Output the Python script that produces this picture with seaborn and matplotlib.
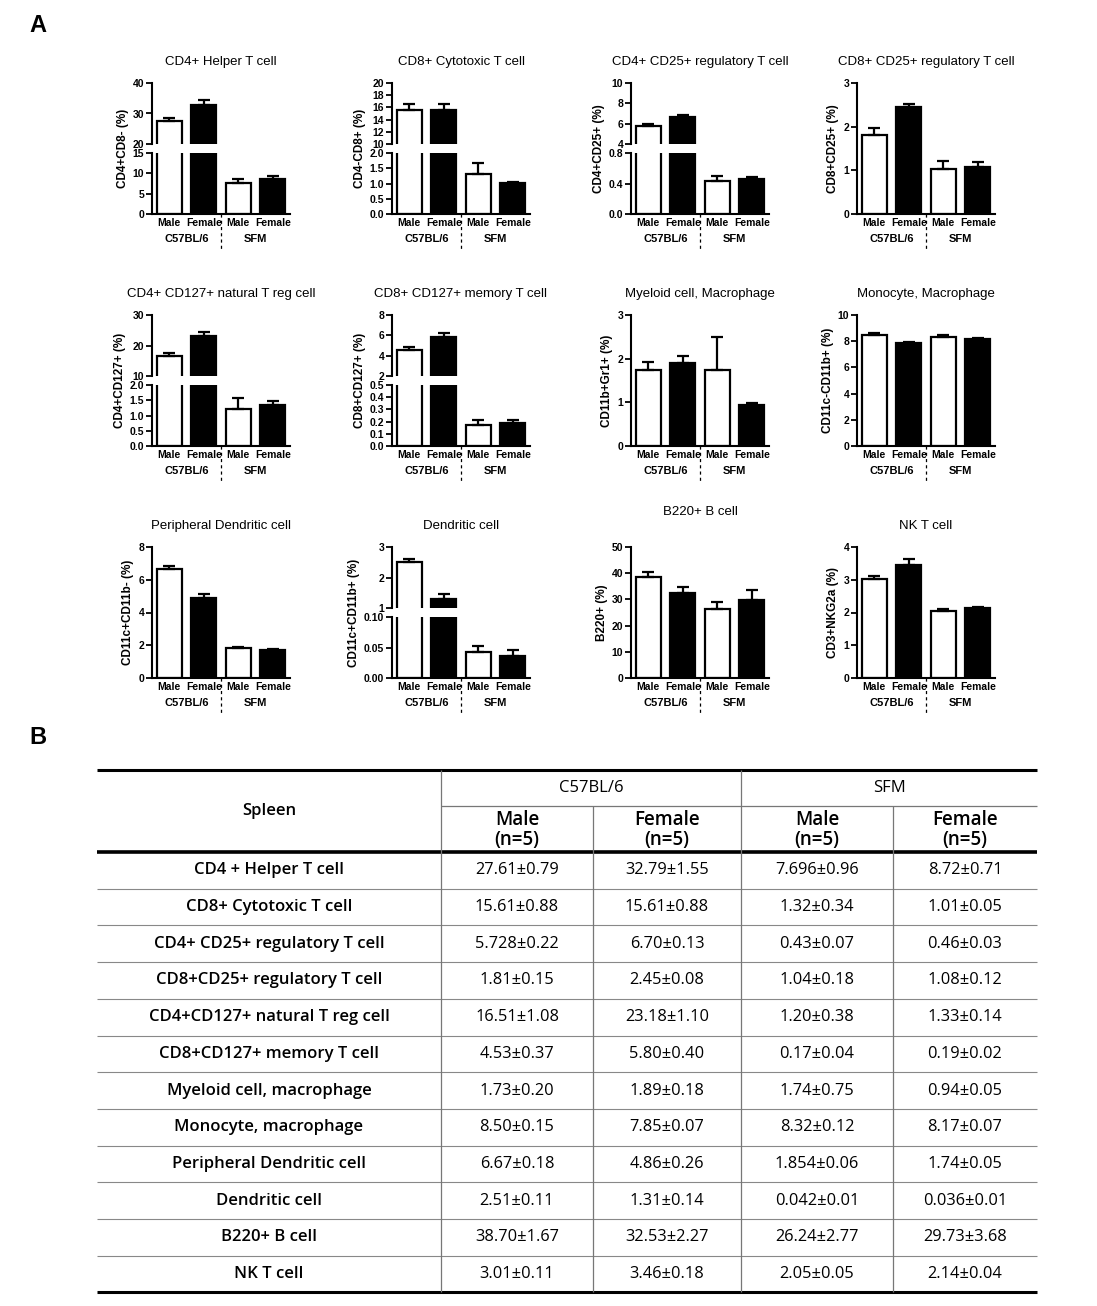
import matplotlib
matplotlib.use("Agg")
import matplotlib.pyplot as plt
from matplotlib.ticker import FormatStrFormatter
import numpy as np
import pandas as pd
import seaborn as sns

W, H, DPI = 1097, 1306, 100

# ---- data (mean ± SEM, spleen, n=5) ----
ROW_LABELS = ["CD4 + Helper T cell", "CD8+ Cytotoxic T cell", "CD4+ CD25+ regulatory T cell",
              "CD8+CD25+ regulatory T cell", "CD4+CD127+ natural T reg cell",
              "CD8+CD127+ memory T cell", "Myeloid cell, macrophage", "Monocyte, macrophage",
              "Peripheral Dendritic cell", "Dendritic cell", "B220+ B cell", "NK T cell"]
TITLES = ["CD4+ Helper T cell", "CD8+ Cytotoxic T cell", "CD4+ CD25+ regulatory T cell",
          "CD8+ CD25+ regulatory T cell", "CD4+ CD127+ natural T reg cell",
          "CD8+ CD127+ memory T cell", "Myeloid cell, Macrophage", "Monocyte, Macrophage",
          "Peripheral Dendritic cell", "Dendritic cell", "B220+ B cell", "NK T cell"]
YLABELS = ["CD4+CD8- (%)", "CD4-CD8+ (%)", "CD4+CD25+ (%)", "CD8+CD25+ (%)",
           "CD4+CD127+ (%)", "CD8+CD127+ (%)", "CD11b+Gr1+ (%)", "CD11c-CD11b+ (%)",
           "CD11c+CD11b- (%)", "CD11c+CD11b+ (%)", "B220+ (%)", "CD3+NKG2a (%)"]
C57_MALE = ["27.61±0.79", "15.61±0.88", "5.728±0.22", "1.81±0.15", "16.51±1.08", "4.53±0.37",
            "1.73±0.20", "8.50±0.15", "6.67±0.18", "2.51±0.11", "38.70±1.67", "3.01±0.11"]
C57_FEMALE = ["32.79±1.55", "15.61±0.88", "6.70±0.13", "2.45±0.08", "23.18±1.10", "5.80±0.40",
              "1.89±0.18", "7.85±0.07", "4.86±0.26", "1.31±0.14", "32.53±2.27", "3.46±0.18"]
SFM_MALE = ["7.696±0.96", "1.32±0.34", "0.43±0.07", "1.04±0.18", "1.20±0.38", "0.17±0.04",
            "1.74±0.75", "8.32±0.12", "1.854±0.06", "0.042±0.01", "26.24±2.77", "2.05±0.05"]
SFM_FEMALE = ["8.72±0.71", "1.01±0.05", "0.46±0.03", "1.08±0.12", "1.33±0.14", "0.19±0.02",
              "0.94±0.05", "8.17±0.07", "1.74±0.05", "0.036±0.01", "29.73±3.68", "2.14±0.04"]
STRAINS = ["C57BL/6", "C57BL/6", "SFM", "SFM"]
SEXES = ["Male", "Female", "Male", "Female"]

# y axis per panel: lower part (lim, ticks, fmt), upper part of a broken axis or None
YAXES = [
    (((0, 15), [0, 5, 10, 15], "%d"), ((20, 40), [20, 30, 40], "%d")),
    (((0, 2), [0, 0.5, 1, 1.5, 2], "%.1f"), ((10, 20), [10, 12, 14, 16, 18, 20], "%d")),
    (((0, 0.8), [0, 0.4, 0.8], "%.1f"), ((4, 10), [4, 6, 8, 10], "%d")),
    (((0, 3), [0, 1, 2, 3], "%d"), None),
    (((0, 2), [0, 0.5, 1, 1.5, 2], "%.1f"), ((10, 30), [10, 20, 30], "%d")),
    (((0, 0.5), [0, 0.1, 0.2, 0.3, 0.4, 0.5], "%.1f"), ((2, 8), [2, 4, 6, 8], "%d")),
    (((0, 3), [0, 1, 2, 3], "%d"), None),
    (((0, 10), [0, 2, 4, 6, 8, 10], "%d"), None),
    (((0, 8), [0, 2, 4, 6, 8], "%d"), None),
    (((0, 0.1), [0, 0.05, 0.1], "%.2f"), ((1, 3), [1, 2, 3], "%d")),
    (((0, 50), [0, 10, 20, 30, 40, 50], "%d"), None),
    (((0, 4), [0, 1, 2, 3, 4], "%d"), None),
]


def parse(s):
    m, e = s.split("±")
    return float(m), float(e)


sns.set_theme(style="ticks")
plt.rcParams["font.family"] = ["Liberation Sans", "DejaVu Sans"]
plt.rcParams.update({"text.color": "black", "axes.labelcolor": "black",
                     "xtick.color": "black", "ytick.color": "black",
                     "axes.facecolor": "white"})

fig = plt.figure(figsize=(W / DPI, H / DPI), dpi=DPI)
fig.patch.set_facecolor("white")

# overlay for the table and panel letters (pixel coordinates)
tab = fig.add_axes([0, 0, 1, 1], zorder=-1)
tab.set_xlim(0, W)
tab.set_ylim(H, 0)
tab.axis("off")
tab.patch.set_visible(False)


def px_axes(x, y, w, h):
    return fig.add_axes([x / W, 1 - (y + h) / H, w / W, h / H])


COL_X = [152, 392, 631, 857]
ROW_Y = [83, 315, 547]
AX_W, AX_H = 138, 131
PART_H, GAP = 61, 9


def style_y(ax, lim, ticks, fmt):
    ax.set_ylim(*lim)
    ax.set_yticks(ticks)
    ax.yaxis.set_major_formatter(FormatStrFormatter(fmt))
    ax.tick_params(axis="y", length=4, width=1.3, pad=1.5, labelsize=7.5, colors="black")
    for t in ax.get_yticklabels():
        t.set_fontweight("bold")
    ax.spines["left"].set_linewidth(1.5)
    ax.spines["left"].set_color("black")


def bar_panel(i):
    r, c = divmod(i, 4)
    x0, y0 = COL_X[c], ROW_Y[r]
    vals = [parse(col[i]) for col in (C57_MALE, C57_FEMALE, SFM_MALE, SFM_FEMALE)]
    df = pd.DataFrame({"grp": [f"{a} {b}" for a, b in zip(STRAINS, SEXES)], "sex": SEXES,
                       "mean": [v[0] for v in vals], "sem": [v[1] for v in vals]})
    low, high = YAXES[i]
    if high is None:
        parts = [(px_axes(x0, y0, AX_W, AX_H), low, AX_H)]
    else:
        parts = [(px_axes(x0, y0, AX_W, PART_H), high, PART_H),
                 (px_axes(x0, y0 + PART_H + GAP, AX_W, PART_H), low, PART_H)]
    for ax, spec, _ in parts:
        sns.barplot(data=df, x="grp", y="mean", hue="sex",
                    palette={"Male": "white", "Female": "black"}, dodge=False,
                    edgecolor="black", linewidth=1.6, width=0.72, errorbar=None,
                    legend=False, ax=ax)
        ax.errorbar(np.arange(4), df["mean"], yerr=[np.zeros(4), df["sem"]], fmt="none",
                    ecolor="black", elinewidth=1.6, capsize=4.5, capthick=1.6, zorder=1)
        ax.set_xlim(-0.5, 3.5)
        style_y(ax, *spec)
        ax.set_xlabel("")
        ax.set_ylabel("")
        sns.despine(ax=ax)
    # upper part of broken axes: no x axis
    if high is not None:
        up = parts[0][0]
        up.spines["bottom"].set_visible(False)
        up.set_xticks([])
    ax, _, h = parts[-1]
    ax.spines["bottom"].set_linewidth(1.5)
    ax.spines["bottom"].set_color("black")
    ax.set_xticks(range(4))
    ax.set_xticklabels(SEXES, fontsize=7.5, fontweight="bold")
    ax.tick_params(axis="x", length=0, pad=3, colors="black")
    trans = ax.get_xaxis_transform()
    for xpos, lab in [(0.5, "C57BL/6"), (2.5, "SFM")]:
        ax.text(xpos, -25 / h, lab, transform=trans, ha="center", va="center",
                fontsize=8, fontweight="bold")
    ax.plot([1.5, 1.5], [0, -37 / h], transform=trans, color="black", lw=0.9,
            ls=(0, (2.5, 2.5)), clip_on=False)
    ax.set_ylabel(YLABELS[i], fontsize=8.5, fontweight="bold", labelpad=3)
    ax.yaxis.label.set_y((AX_H / 2) / h)
    ty = y0 - 21 if i != 10 else y0 - 35
    fig.text((x0 + AX_W / 2) / W, 1 - ty / H, TITLES[i], ha="center", va="center",
             fontsize=9.5)


for i in range(12):
    bar_panel(i)

# panel letters
for lab, y in [("A", 25), ("B", 737)]:
    tab.text(38, y, lab, ha="center", va="center", fontsize=17, fontweight="bold",
             family=["Liberation Sans Narrow", "Liberation Sans"])

# ---- table B ----
TF = ["Open Sans", "DejaVu Sans"]
cols = [97, 441, 593, 741, 893, 1037]
centers = [(a + b) / 2 for a, b in zip(cols[:-1], cols[1:])]
top, mid, hbot = 770, 806, 852
row_h = 36.7
bottom = hbot + row_h * len(ROW_LABELS)

tab.hlines(top, cols[0], cols[-1], color="black", lw=2.2)
tab.hlines(mid, cols[1], cols[-1], color="#777777", lw=0.9)
tab.hlines(hbot, cols[0], cols[-1], color="black", lw=2.6)
tab.hlines(bottom, cols[0], cols[-1], color="black", lw=2.2)
for k in range(1, len(ROW_LABELS)):
    tab.hlines(hbot + row_h * k, cols[0], cols[-1], color="#888888", lw=0.8)
for x in (cols[1], cols[3]):
    tab.vlines(x, top, bottom, color="#777777", lw=0.9)
for x in (cols[2], cols[4]):
    tab.vlines(x, mid, bottom, color="#777777", lw=0.9)

tab.text(centers[0], 811, "Spleen", ha="center", va="center", fontsize=12,
         fontweight="semibold", family=TF)
tab.text((cols[1] + cols[3]) / 2, 788, "C57BL/6", ha="center", va="center",
         fontsize=12, family=TF)
tab.text((cols[3] + cols[5]) / 2, 788, "SFM", ha="center", va="center", fontsize=12,
         family=TF)
for cx, sex in zip(centers[1:], SEXES):
    tab.text(cx, 820, sex, ha="center", va="center", fontsize=13.5, fontweight="semibold",
             family=TF)
    tab.text(cx, 840, "(n=5)", ha="center", va="center", fontsize=13.5,
             fontweight="semibold", family=TF)

for k, lab in enumerate(ROW_LABELS):
    y = hbot + row_h * (k + 0.5)
    tab.text(centers[0], y, lab, ha="center", va="center", fontsize=12,
             fontweight="semibold", family=TF)
    for cx, col in zip(centers[1:], (C57_MALE, C57_FEMALE, SFM_MALE, SFM_FEMALE)):
        tab.text(cx, y, col[k], ha="center", va="center", fontsize=11.8, family=TF)

fig.savefig("out.png", dpi=DPI, facecolor="white")
